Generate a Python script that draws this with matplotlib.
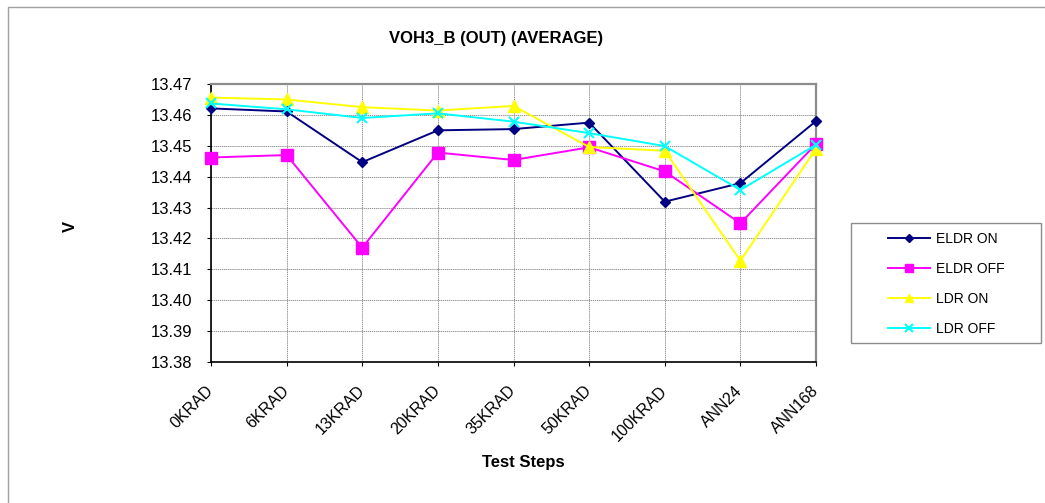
from matplotlib import pyplot as plt
from matplotlib.patches import Rectangle

plt.rcParams['font.family'] = ['Liberation Sans', 'DejaVu Sans']

STEPS = ['0KRAD', '6KRAD', '13KRAD', '20KRAD', '35KRAD', '50KRAD', '100KRAD', 'ANN24', 'ANN168']

ELDR_ON = [13.4621, 13.4611, 13.4447, 13.4550, 13.4554, 13.4575, 13.4319, 13.4379, 13.4580]
ELDR_OFF = [13.4462, 13.4470, 13.4170, 13.4478, 13.4454, 13.4495, 13.4417, 13.4249, 13.4506]
LDR_ON = [13.4656, 13.4650, 13.4625, 13.4614, 13.4629, 13.4496, 13.4484, 13.4128, 13.4490]
LDR_OFF = [13.4637, 13.4618, 13.4590, 13.4605, 13.4578, 13.4541, 13.4499, 13.4357, 13.4503]

YTICKS = [13.38, 13.39, 13.40, 13.41, 13.42, 13.43, 13.44, 13.45, 13.46, 13.47]

W, H = 1045, 503
fig = plt.figure(figsize=(W / 100, H / 100), dpi=100)

# outer chart frame
fig.patches.append(Rectangle((7.5 / W, -0.1), 1.2, 1 - 6.5 / H + 0.1,
                             transform=fig.transFigure, fill=False,
                             edgecolor='#a0a0a0', linewidth=1.0))

# legend frame
fig.patches.append(Rectangle((851 / W, 1 - 343 / H), 190 / W, 120 / H,
                             transform=fig.transFigure, fill=False,
                             edgecolor='#8c8c8c', linewidth=1.0))

ax = fig.add_axes([211 / W, 1 - 362 / H, (816 - 211) / W, (362 - 84) / H])

x = list(range(len(STEPS)))
series = [
  ('ELDR ON', ELDR_ON, '#000080', 'D', 5.5, 1.4),
  ('ELDR OFF', ELDR_OFF, '#ff00ff', 's', 8, 1.4),
  ('LDR ON', LDR_ON, '#ffff00', '^', 8, 1.4),
  ('LDR OFF', LDR_OFF, '#00ffff', 'x', 7, 1.4),
]
for label, vals, color, marker, ms, lw in series:
  mew = 1.5 if marker == 'x' else 1.0
  ax.plot(x, vals, color=color, marker=marker, markersize=ms, linewidth=lw,
          markeredgewidth=mew, label=label, clip_on=False, zorder=3)

ax.set_xlim(0, len(STEPS) - 1)
ax.set_ylim(13.38, 13.47)
ax.set_yticks(YTICKS)
ax.set_yticklabels(['{:.2f}'.format(v) for v in YTICKS], fontsize=12)
ax.set_xticks(x)
ax.set_xticklabels(STEPS, rotation=45, ha='right', va='center',
                   rotation_mode='anchor', fontsize=11.5)
ax.tick_params(axis='both', direction='out', length=3, width=0.8, color='black')
ax.tick_params(axis='y', pad=10.5)
ax.tick_params(axis='x', pad=16)

ax.grid(True, which='major', axis='both', color='#7a7a7a', linestyle=(0, (1.5, 1)), linewidth=0.6)
ax.set_axisbelow(True)

for side in ['left', 'bottom']:
  ax.spines[side].set_color('black')
  ax.spines[side].set_linewidth(1.2)
for side in ['top', 'right']:
  ax.spines[side].set_color('#8c8c8c')
  ax.spines[side].set_linewidth(1.6)

fig.text(496 / W, 1 - 38 / H, 'VOH3_B (OUT) (AVERAGE)', ha='center', va='center',
         fontsize=12, fontweight='bold')
fig.text(70 / W, 1 - 226 / H, 'V', ha='center', va='center', rotation=90,
         fontsize=12, fontweight='bold')
fig.text(523 / W, 1 - 463 / H, 'Test Steps', ha='center', va='center',
         fontsize=12, fontweight='bold')

leg = fig.legend(loc='upper left', bbox_to_anchor=(888 / W, 1 - 232 / H), fontsize=10,
                 frameon=False, handlelength=3.0, handletextpad=0.45,
                 labelspacing=1.15, borderpad=0, borderaxespad=0)
for h in leg.legend_handles:
  h.set_markersize(h.get_markersize() * 0.75)

fig.savefig('out.png', dpi=100)
